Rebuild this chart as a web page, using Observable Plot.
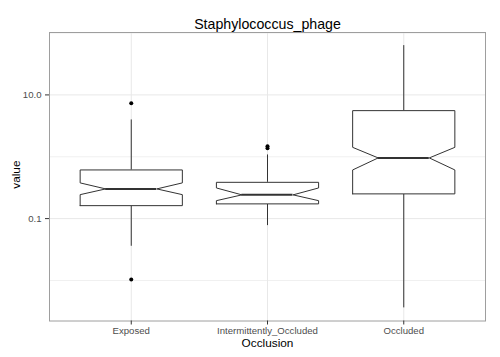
<!DOCTYPE html>
<html><head><meta charset="utf-8">
<script src="https://cdn.jsdelivr.net/npm/d3@7"></script>
<script src="https://cdn.jsdelivr.net/npm/@observablehq/plot@0.6"></script>
<style>body{margin:0;background:#fff}</style>
</head><body><div id="chart"></div>
<script>
const categories = ["Exposed", "Intermittently_Occluded", "Occluded"];
const whiskerLow = [0.0357, 0.077, 0.0036];
const q1 = [0.162, 0.173, 0.251];
const notchLow = [0.244, 0.195, 0.612];
const median = [0.302, 0.242, 0.958];
const notchHigh = [0.378, 0.313, 1.42];
const q3 = [0.612, 0.386, 5.57];
const whiskerHigh = [3.94, 1.07, 62.7];
const outlierCategory = ["Exposed", "Exposed", "Intermittently_Occluded", "Intermittently_Occluded"];
const outlierValues = [7.31, 0.0104, 1.476, 1.37];
const yTickValues = [0.1, 10];
const yTickLabels = ["0.1", "10.0"];
const minorGridValues = [0.01, 1, 100];
const titleText = "Staphylococcus_phage";
const xTitle = "Occlusion";
const yTitle = "value";

const idx = categories.map((c, i) => i + 1);
const boxes = categories.map((c, i) => ({
  cat: c, x: i + 1, lo: whiskerLow[i], q1: q1[i], nl: notchLow[i], med: median[i],
  nh: notchHigh[i], q3: q3[i], hi: whiskerHigh[i]
}));
const hw = 0.375, nw = 0.1875;
const poly = boxes.flatMap(b => [
  [b.x - hw, b.q1], [b.x - hw, b.nl], [b.x - nw, b.med], [b.x - hw, b.nh], [b.x - hw, b.q3],
  [b.x + hw, b.q3], [b.x + hw, b.nh], [b.x + nw, b.med], [b.x + hw, b.nl], [b.x + hw, b.q1],
  [b.x - hw, b.q1]
].map(([x, y]) => ({cat: b.cat, x, y})));
const outliers = outlierValues.map((v, i) => ({x: categories.indexOf(outlierCategory[i]) + 1, y: v}));
const all = [...whiskerLow, ...whiskerHigh, ...outlierValues];
const [lmin, lmax] = d3.extent(all.map(Math.log10));
const pad = (lmax - lmin) * 0.05;
const yDomain = [10 ** (lmin - pad), 10 ** (lmax + pad)];
const font = "'Liberation Sans', Arial, Helvetica, sans-serif";

const chart = Plot.plot({
  width: 500, height: 357,
  marginLeft: 49, marginRight: 15, marginTop: 32, marginBottom: 36.5,
  style: {fontFamily: font, background: "white"},
  x: {domain: [0.4, 3.6]},
  y: {type: "log", domain: yDomain},
  marks: [
    Plot.ruleY(minorGridValues, {stroke: "#f0f0f0"}),
    Plot.ruleY(yTickValues, {stroke: "#e8e8e8"}),
    Plot.ruleX(idx, {stroke: "#e8e8e8"}),
    Plot.ruleX(boxes, {x: "x", y1: "q3", y2: "hi", stroke: "#333"}),
    Plot.ruleX(boxes, {x: "x", y1: "lo", y2: "q1", stroke: "#333"}),
    Plot.line(poly, {x: "x", y: "y", z: "cat", stroke: "#333", fill: "white", strokeWidth: 1}),
    Plot.ruleY(boxes, {y: "med", x1: d => d.x - nw, x2: d => d.x + nw, stroke: "#333", strokeWidth: 2}),
    Plot.dot(outliers, {x: "x", y: "y", r: 2, fill: "black"}),
    Plot.frame({stroke: "#9e9e9e"}),
    Plot.axisX({ticks: idx, tickFormat: i => categories[i - 1], label: null, tickSize: 4, tickPadding: 2,
      fontSize: 9.6, fill: "#4d4d4d", stroke: "#333"}),
    Plot.axisY({ticks: yTickValues, tickFormat: d => yTickLabels[yTickValues.indexOf(d)], label: null,
      tickSize: 4, tickPadding: 4, fontSize: 9.6, fill: "#4d4d4d", stroke: "#333"}),
    Plot.text([titleText], {text: d => d, frameAnchor: "top", lineAnchor: "middle", dy: -8, fontSize: 14.2, fill: "black"}),
    Plot.text([xTitle], {text: d => d, frameAnchor: "bottom", lineAnchor: "middle", dy: 22.5, fontSize: 11.8, fill: "black"}),
    Plot.text([yTitle], {text: d => d, frameAnchor: "left", lineAnchor: "middle", dx: -33.5, dy: 12, rotate: -90, fontSize: 11.8, fill: "black"})
  ]
});
document.getElementById("chart").appendChild(chart);
</script>
</body></html>
